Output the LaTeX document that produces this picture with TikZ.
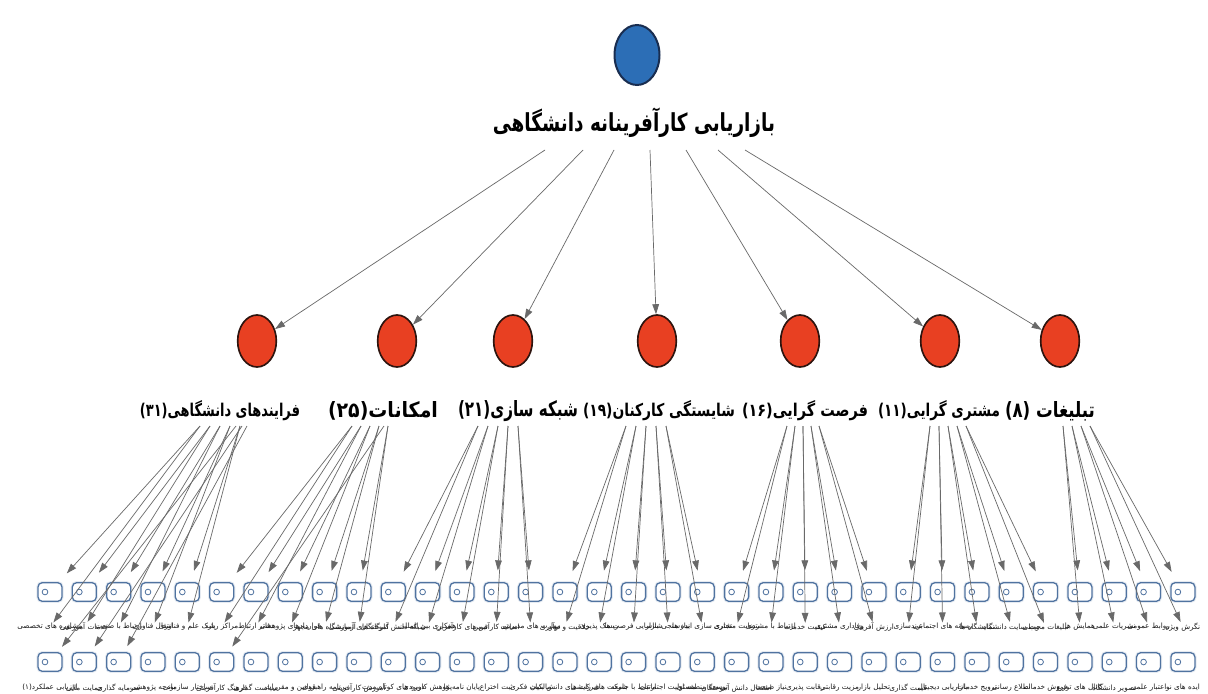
\documentclass[tikz,border=0pt]{standalone}
\usepackage{fontspec}
\usepackage{graphicx}
\usetikzlibrary{arrows.meta,shapes.geometric}
\TeXXeTstate=1
\newfontfamily\fa[Script=Arabic]{DejaVu Sans}
\newfontfamily\fab[Script=Arabic]{DejaVu Sans Bold}
\newcommand{\fitbox}[3]{\resizebox{#1}{#2}{\fab #3}}
\definecolor{rootblue}{RGB}{44,110,182}
\definecolor{rootedge}{RGB}{25,45,80}
\definecolor{catred}{RGB}{232,64,34}
\definecolor{catedge}{RGB}{45,20,15}
\definecolor{leafblue}{RGB}{80,115,160}
\definecolor{arrgray}{RGB}{105,105,105}
\begin{document}
\begin{tikzpicture}[x=0.3mm,y=-0.3mm,
  rootnode/.style={ellipse,draw=rootedge,line width=1.7pt,fill=rootblue,minimum width=13.5mm,minimum height=18mm,inner sep=0},
  catnode/.style={ellipse,draw=catedge,line width=1.4pt,fill=catred,minimum width=11.6mm,minimum height=15.6mm,inner sep=0},
  lbl/.style={inner sep=0,outer sep=1pt},
  leaf/.style={draw=leafblue,line width=1.1pt,rounded corners=1.3mm,fill=white,minimum width=7.2mm,minimum height=5.6mm,inner sep=0,
    preaction={draw=leafblue!15,line width=2.8pt},
    path picture={\draw[leafblue,line width=0.7pt] ([xshift=2.1mm]path picture bounding box.west) circle (0.85mm);}},
  leaftext/.style={inner sep=0.2mm,font=\fa\fontsize{6.2}{7}\selectfont,text=black!90},
  arr/.style={draw=arrgray,line width=0.6pt,-{Triangle[length=3mm,width=2mm]}}
]
\fill[white] (0,0) rectangle (1208,693);
\useasboundingbox (0,0) rectangle (1208,693);

% root
\node[rootnode] (root) at (637,55) {};
\node[lbl] (title) at (634,123) {\fitbox{84.6mm}{7.1mm}{\beginR بازاریابی کارآفرینانه دانشگاهی\endR}};

% categories
\foreach \k/\x in {1/257,2/397,3/513,4/657,5/800,6/940,7/1060}
  \node[catnode] (c\k) at (\x,341) {};

\node[lbl] (l1) at (220,411) {\fitbox{48mm}{4.8mm}{\beginR فرایندهای دانشگاهی(۳۱)\endR}};
\node[lbl] (l2) at (383,411) {\fitbox{33mm}{4.8mm}{\beginR امکانات(۲۵)\endR}};
\node[lbl] (l3) at (518,411) {\fitbox{36mm}{4.8mm}{\beginR شبکه سازی(۲۱)\endR}};
\node[lbl] (l4) at (659,411) {\fitbox{45.6mm}{4.8mm}{\beginR شایستگی کارکنان(۱۹)\endR}};
\node[lbl] (l5) at (805,411) {\fitbox{37.8mm}{4.8mm}{\beginR فرصت گرایی(۱۶)\endR}};
\node[lbl] (l6) at (939,411) {\fitbox{36.6mm}{4.8mm}{\beginR مشتری گرایی(۱۱)\endR}};
\node[lbl] (l7) at (1050,411) {\fitbox{27mm}{4.8mm}{\beginR تبلیغات (۸)\endR}};

% root arrows
\foreach \k/\x in {1/545,2/583,3/614,4/650,5/686,6/718,7/745}{
  \coordinate (r\k) at (\x,150);
  \draw[arr] (r\k) -- (c\k);
}

% leaves row 1
\foreach \t [count=\i from 0] in {مشاوره های تخصصی,خدمات آموزشی,ارتباط با صنعت,انتقال فناوری,پارک علم و فناوری,مراکز رشد,دفاتر ارتباط,قراردادهای پژوهشی,آزمایشگاه های مجهز,کارگاه های آموزشی,شبکه دانش آموختگان,همکاری بین المللی,تیم های کارآفرین,اساتید کارآفرین,مهارت های مدیریتی,خلاقیت و نوآوری,ریسک پذیری,شناسایی فرصت ها,نیازسنجی بازار,تجاری سازی ایده ها,رضایت مشتری,ارتباط با مشتری,کیفیت خدمات,وفاداری مشتری,ارزش آفرینی,برندسازی,رسانه های اجتماعی,نمایشگاه ها,وب سایت دانشگاه,تبلیغات محیطی,همایش ها,نشریات علمی,روابط عمومی,نگرش ویژه}{
  \node[leaf] (b1-\i) at ({50+34.33*\i},592) {};
  \node[leaftext] (t1-\i) at ({50+34.33*\i},627) {\beginR\t\endR};
}
% leaves row 2
\foreach \t [count=\i from 0] in {ارزیابی عملکرد(۱),حمایت مالی,سرمایه گذاری,بودجه پژوهشی,ساختار سازمانی,فرهنگ کارآفرینی,سیاست گذاری,قوانین و مقررات,برنامه راهبردی,آموزش کارآفرینی,دوره های کوتاه مدت,پژوهش کاربردی,پایان نامه ها,ثبت اختراع,مالکیت فکری,شرکت های دانش بنیان,شرکت های زایشی,ارتباط با جامعه,مسئولیت اجتماعی,توسعه منطقه ای,اشتغال دانش آموختگان,نیاز صنعت,رقابت پذیری,مزیت رقابتی,تحلیل بازار,قیمت گذاری,بازاریابی دیجیتال,ترویج خدمات,اطلاع رسانی,فروش خدمات,کانال های توزیع,تصویر دانشگاه,اعتبار علمی,ایده های نو}{
  \node[leaf] (b2-\i) at ({50+34.33*\i},662) {};
  \node[leaftext] (t2-\i) at ({50+34.33*\i},688) {\beginR\t\endR};
}

% category -> leaves
\foreach \c/\first/\last/\sx/\st in {1/0/4/200/10,2/5/9/352/9,3/10/14/478/10,4/15/19/626/10,5/20/24/787/8,6/25/29/930/9,7/30/33/1063/9}{
  \foreach \i in {\first,...,\last}{
    \pgfmathsetmacro\xs{\sx+\st*(\i-\first)}
    \coordinate (s\c-\i) at (\xs,426);
    \draw[arr,shorten >=3.5mm] (s\c-\i) -- (b1-\i);
    \draw[arr] (s\c-\i) -- (t1-\i);
  }
}
% arrows reaching the second row
\foreach \q/\x/\b in {1/236/0,2/242/1,3/247/2,4/384/5}{
  \coordinate (q\q) at (\x,426);
  \draw[arr,shorten >=2mm] (q\q) -- (b2-\b);
}
\end{tikzpicture}
\end{document}
